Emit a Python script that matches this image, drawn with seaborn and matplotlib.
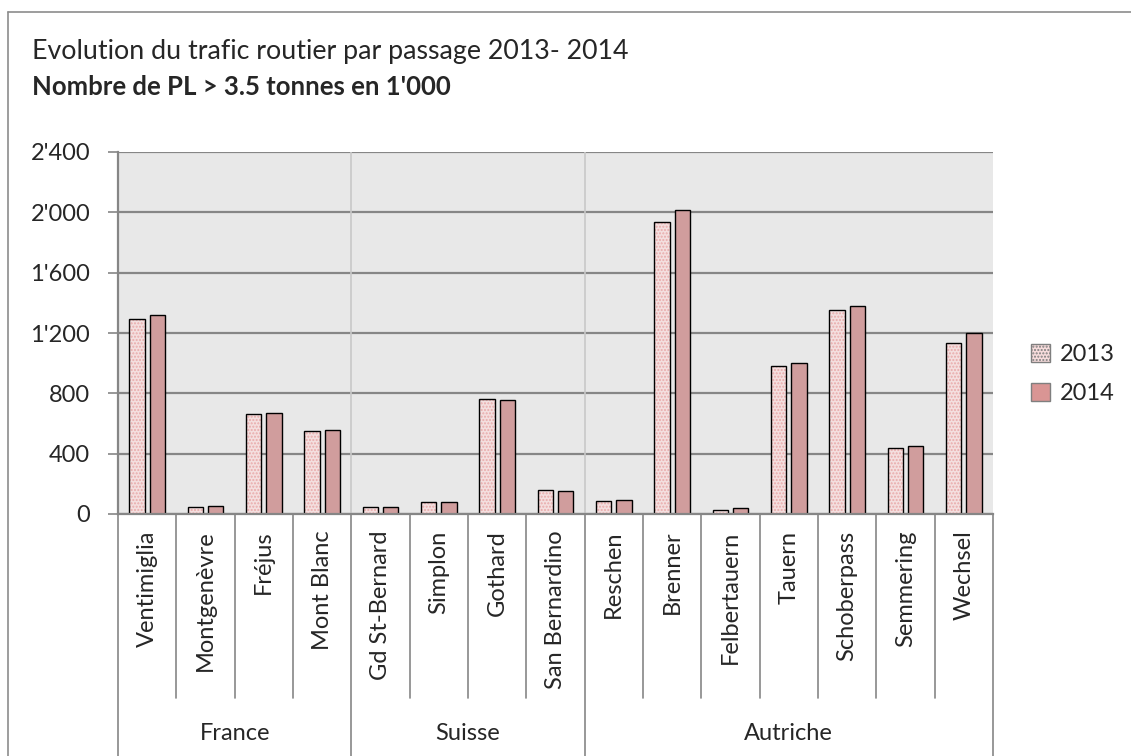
import pandas as pd
import numpy as np
import matplotlib
matplotlib.use('Agg')
import matplotlib.pyplot as plt
from matplotlib.patches import Patch, Rectangle
from matplotlib.lines import Line2D
import seaborn as sns

# Data (thousand HGVs > 3.5 t)
passes = ['Ventimiglia', 'Montgenèvre', 'Fréjus', 'Mont Blanc',
          'Gd St-Bernard', 'Simplon', 'Gothard', 'San Bernardino',
          'Reschen', 'Brenner', 'Felbertauern', 'Tauern', 'Schoberpass',
          'Semmering', 'Wechsel']
countries = ['France', 'Suisse', 'Autriche']
country_sizes = [4, 4, 7]
values_2013 = [1295, 48, 663, 550, 48, 82, 765, 157, 86, 1935, 27, 983, 1351, 436, 1131]
values_2014 = [1317, 55, 668, 555, 44, 77, 757, 152, 93, 2013, 42, 1001, 1382, 454, 1203]
years = ['2013', '2014']
y_ticks = [0, 400, 800, 1200, 1600, 2000, 2400]

df = pd.DataFrame({
    'passage': passes * 2,
    'annee': ['2013'] * len(passes) + ['2014'] * len(passes),
    'pl': values_2013 + values_2014,
})

sns.set_theme(style='white')
plt.rcParams['font.family'] = ['Lato', 'DejaVu Sans']

col_2013 = '#F7DCDC'
dot_2013 = '#E9AAAA'
col_2014 = '#D99594'
grid_col = '#868686'
fs = 17

fig = plt.figure(figsize=(11.31, 7.56), dpi=100)
ax = fig.add_axes([118 / 1131, 1 - 514 / 756, (993 - 118) / 1131, (514 - 152) / 756])
ax.set_facecolor('#E8E8E8')

sns.barplot(data=df, x='passage', y='pl', hue='annee', order=passes, hue_order=years,
            palette={'2013': col_2013, '2014': col_2014}, width=0.7, gap=0.26,
            edgecolor='black', linewidth=1, legend=False, ax=ax, zorder=3)

# dotted texture on the 2013 bars, then redraw a black outline
for p in ax.containers[0].patches:
    p.set_hatch('.....')
    p.set_edgecolor(dot_2013)
    p.set_linewidth(0)
    ax.add_patch(Rectangle(p.get_xy(), p.get_width(), p.get_height(), fill=False,
                           edgecolor='black', linewidth=1, zorder=4))

ax.set_xlim(-0.5, len(passes) - 0.5)
ax.set_ylim(0, 2400)
ax.set_yticks(y_ticks)
ax.set_yticklabels([f"{v:,}".replace(',', "'") for v in y_ticks], fontsize=fs)
ax.yaxis.grid(True, color=grid_col, linewidth=1.6, zorder=0)
ax.set_axisbelow(True)
ax.tick_params(axis='y', which='both', direction='out', length=7, width=1.2,
               color=grid_col, left=True, pad=13)
ax.tick_params(axis='x', length=0, pad=12)
ax.set_xticks(range(len(passes)))
ax.set_xticklabels(passes, rotation=90, fontsize=fs, va='top')
ax.set_xlabel('')
ax.set_ylabel('')
for s in ['top', 'right']:
    ax.spines[s].set_visible(False)
ax.spines['left'].set_color(grid_col)
ax.spines['left'].set_linewidth(1.6)
ax.spines['bottom'].set_color(grid_col)
ax.spines['bottom'].set_linewidth(1.6)
ax.spines['bottom'].set_zorder(5)

# group boundaries: light lines inside plot, long lines below
trans = ax.get_xaxis_transform()
bounds = np.cumsum([0] + country_sizes) - 0.5
for b in bounds[1:-1]:
    ax.axvline(b, color='#C8C8C8', linewidth=1.2, zorder=1)
for i in range(len(passes) + 1):
    xb = i - 0.5
    y_end = -(756 - 514) / 362 if xb in bounds else -(698 - 514) / 362
    ax.plot([xb, xb], [0, y_end], transform=trans, color=grid_col, linewidth=1.2,
            clip_on=False)
start = 0
for name, n in zip(countries, country_sizes):
    ax.text(start + (n - 1) / 2, -(734 - 514) / 362, name, transform=trans,
            ha='center', va='center', fontsize=fs)
    start += n

# titles
fig.text(32 / 1131, 1 - 52 / 756, 'Evolution du trafic routier par passage 2013- 2014',
         fontsize=19.3, va='center', ha='left')
fig.text(32 / 1131, 1 - 87 / 756, "Nombre de PL > 3.5 tonnes en 1'000",
         fontsize=18.5, fontweight='bold', va='center', ha='left')

# outer chart frame (cut at the right and bottom edges)
fig.add_artist(Line2D([8 / 1131, 8 / 1131], [0, 1 - 12 / 756], color='#8C8C8C', linewidth=1.2))
fig.add_artist(Line2D([8 / 1131, 1], [1 - 12 / 756, 1 - 12 / 756], color='#8C8C8C', linewidth=1.2))

handles = [Patch(facecolor=col_2013, edgecolor='#7F7F7F', hatch='.....', label='2013'),
           Patch(facecolor=col_2014, edgecolor='#7F7F7F', label='2014')]
leg = fig.legend(handles=handles, loc='center left', bbox_to_anchor=(1010 / 1131, 1 - 374 / 756),
                 frameon=False, fontsize=fs, handlelength=0.8, handleheight=0.8,
                 handletextpad=0.4, labelspacing=0.75)

fig.savefig('out.png', dpi=100)
